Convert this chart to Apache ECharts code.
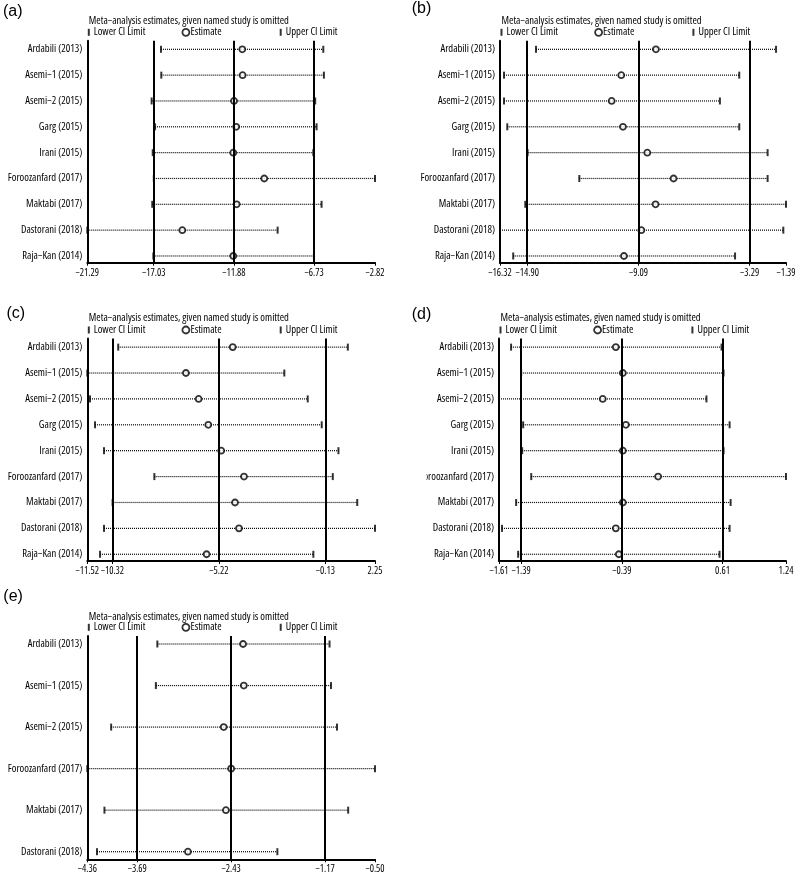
<!DOCTYPE html>
<html><head><meta charset="utf-8">
<script src="https://cdn.jsdelivr.net/npm/echarts@6/dist/echarts.min.js"></script>
<style>html,body{margin:0;padding:0;background:#fff}#c{width:800px;height:875px}</style>
</head><body><div id="c"></div>
<script>
// ---------- data ----------
const studies9 = ['Ardabili (2013)', 'Asemi\u22121 (2015)', 'Asemi\u22122 (2015)', 'Garg (2015)', 'Irani (2015)', 'Foroozanfard (2017)', 'Maktabi (2017)', 'Dastorani (2018)', 'Raja\u2212Kan (2014)'];
const studies6 = ['Ardabili (2013)', 'Asemi\u22121 (2015)', 'Asemi\u22122 (2015)', 'Foroozanfard (2017)', 'Maktabi (2017)', 'Dastorani (2018)'];

const aLower = [-16.56, -16.54, -17.16, -16.94, -17.09, -17.02, -17.12, -21.29, -17.05];
const aEst   = [-11.34, -11.32, -11.87, -11.73, -11.92, -9.93, -11.70, -15.19, -11.92];
const aUpper = [-6.14, -6.10, -6.66, -6.57, -6.78, -2.82, -6.25, -9.07, -6.74];
const aTicks = [-21.29, -17.03, -11.88, -6.73, -2.82];

const bLower = [-14.44, -16.11, -16.11, -15.94, -14.88, -12.18, -15.00, -16.32, -15.63];
const bEst   = [-8.18, -9.99, -10.49, -9.90, -8.63, -7.26, -8.20, -8.94, -9.85];
const bUpper = [-1.91, -3.83, -4.84, -3.83, -2.35, -2.35, -1.39, -1.53, -4.05];
const bTicks = [-16.32, -14.90, -9.09, -3.29, -1.39];

const cLower = [-10.04, -11.52, -11.39, -11.15, -10.72, -8.31, -10.31, -10.72, -10.91];
const cEst   = [-4.56, -6.80, -6.19, -5.73, -5.11, -4.02, -4.45, -4.26, -5.81];
const cUpper = [0.95, -2.09, -0.97, -0.30, 0.50, 0.23, 1.40, 2.25, -0.70];
const cTicks = [-11.52, -10.32, -5.22, -0.13, 2.25];

const dLower = [-1.49, -1.39, -1.61, -1.37, -1.38, -1.29, -1.44, -1.58, -1.42];
const dEst   = [-0.45, -0.38, -0.58, -0.35, -0.38, -0.03, -0.38, -0.45, -0.42];
const dUpper = [0.60, 0.62, 0.45, 0.68, 0.62, 1.24, 0.69, 0.68, 0.58];
const dTicks = [-1.61, -1.39, -0.39, 0.61, 1.24];

const eLower = [-3.42, -3.44, -4.04, -4.36, -4.13, -4.23];
const eEst   = [-2.27, -2.26, -2.53, -2.43, -2.50, -3.01];
const eUpper = [-1.11, -1.09, -1.01, -0.50, -0.86, -1.81];
const eTicks = [-4.36, -3.69, -2.43, -1.17, -0.50];

const panelTags = ['(a)', '(b)', '(c)', '(d)', '(e)'];
const headerText = 'Meta\u2212analysis estimates, given named study is omitted';
const legendNames = ['Lower CI Limit', 'Estimate', 'Upper CI Limit'];

// ---------- layout ----------
const FONT = '"Open Sans", "Liberation Sans", Arial, sans-serif';
const STRETCH = 'condensed';
const TAGFONT = '"Liberation Sans", Arial, sans-serif';
const panels = [
  {names: studies9, lower: aLower, est: aEst, upper: aUpper, ticks: aTicks},
  {names: studies9, lower: bLower, est: bEst, upper: bUpper, ticks: bTicks},
  {names: studies9, lower: cLower, est: cEst, upper: cUpper, ticks: cTicks},
  {names: studies9, lower: dLower, est: dEst, upper: dUpper, ticks: dTicks},
  {names: studies6, lower: eLower, est: eEst, upper: eUpper, ticks: eTicks}
];
const layout = [
  {left: 87.3, top: 40.7, width: 287.7, height: 222, ymin: 0.667, ymax: 9.26, tagX: 3, tagY: 11.2, headY: 20.7, legY: 32.3},
  {left: 500, top: 40.7, width: 286, height: 222, ymin: 0.667, ymax: 9.26, tagX: 411.7, tagY: 8.8, headY: 20.7, legY: 32.3},
  {left: 87.3, top: 338.5, width: 287.7, height: 222.5, ymin: 0.667, ymax: 9.26, tagX: 6.5, tagY: 314, headY: 318.3, legY: 330},
  {left: 499, top: 338.5, width: 287, height: 222.5, ymin: 0.667, ymax: 9.26, tagX: 411.7, tagY: 314.3, headY: 318.3, legY: 330},
  {left: 87.3, top: 636, width: 287.7, height: 223.3, ymin: 0.807, ymax: 6.183, tagX: 3.3, tagY: 596.7, headY: 616.7, legY: 627.3}
];

const fmt = v => (v < 0 ? '\u2212' : '') + Math.abs(v).toFixed(2);
const txt = (size) => ({fontSize: size, fontStyle: STRETCH, fontFamily: FONT, color: '#000', fontWeight: 'normal'});

const option = {
  animation: false,
  backgroundColor: '#fff',
  textStyle: {fontFamily: FONT, color: '#000'},
  title: [], legend: [], grid: [], xAxis: [], yAxis: [], series: [],
  graphic: [{type: 'rect', shape: {x: 396, y: 468, width: 30.5, height: 18}, style: {fill: '#fff'}, z: 100}]
};

panels.forEach((p, k) => {
  const L = layout[k];
  const rows = p.names.map((_, i) => i + 1);
  option.grid.push({left: L.left, top: L.top, width: L.width, height: L.height, containLabel: false, outerBoundsMode: 'none'});
  option.xAxis.push({
    type: 'value', gridIndex: k, min: p.ticks[0], max: p.ticks[p.ticks.length - 1],
    axisLine: {show: true, onZero: false, lineStyle: {color: '#000', width: 2}},
    axisTick: {show: true, length: 3, customValues: p.ticks, lineStyle: {color: '#000', width: 1}},
    axisLabel: Object.assign(txt(10), {customValues: p.ticks, formatter: fmt, margin: 5,
      showMinLabel: true, showMaxLabel: true, hideOverlap: false}),
    splitLine: {show: false}
  });
  option.yAxis.push({
    type: 'value', gridIndex: k, inverse: true, min: L.ymin, max: L.ymax,
    axisLine: {show: true, onZero: false, lineStyle: {color: '#000', width: 2}},
    axisTick: {show: false},
    axisLabel: Object.assign(txt(10.6), {customValues: rows, formatter: v => p.names[Math.round(v) - 1], margin: 5,
      showMinLabel: true, showMaxLabel: true, hideOverlap: false}),
    splitLine: {show: false}
  });
  // panel tag
  option.title.push({text: panelTags[k], left: L.tagX, top: L.tagY - 9, padding: 0,
    textStyle: {fontSize: 16, fontWeight: 'normal', fontFamily: TAGFONT, color: '#000', lineHeight: 18}});
  // header
  option.title.push({text: headerText, left: L.left + 1.5, top: L.headY - 6.5, padding: 0,
    textStyle: Object.assign(txt(10.6), {lineHeight: 13})});
  // legends
  const legCommon = {top: L.legY - 6.5, padding: 0, itemGap: 0, selectedMode: false};
  option.legend.push(Object.assign({}, legCommon, {left: L.left + 0.5, itemWidth: 2, itemHeight: 7,
    textStyle: Object.assign(txt(10.6), {lineHeight: 13, padding: [0, 0, 0, -1]}),
    data: [{name: legendNames[0], icon: 'rect', itemStyle: {color: '#000'}}]}));
  option.legend.push(Object.assign({}, legCommon, {left: L.left + 94.2, itemWidth: 7, itemHeight: 7,
    textStyle: Object.assign(txt(10.6), {lineHeight: 13, padding: [0, 0, 0, -4]}),
    data: [{name: legendNames[1], icon: 'circle', itemStyle: {color: '#fff', borderColor: '#000', borderWidth: 1.8}}]}));
  option.legend.push(Object.assign({}, legCommon, {left: L.left + 192.4, itemWidth: 2, itemHeight: 7,
    textStyle: Object.assign(txt(10.6), {lineHeight: 13, padding: [0, 0, 0, -1]}),
    data: [{name: legendNames[2], icon: 'rect', itemStyle: {color: '#000'}}]}));

  // dotted CI lines
  option.series.push({
    type: 'custom', xAxisIndex: k, yAxisIndex: k, z: 1, silent: true,
    encode: {x: [0, 1], y: 2},
    data: rows.map((r, i) => [p.lower[i], p.upper[i], r]),
    renderItem: (params, api) => {
      const a = api.coord([api.value(0), api.value(2)]);
      const b = api.coord([api.value(1), api.value(2)]);
      return {type: 'line', shape: {x1: a[0], y1: a[1], x2: b[0], y2: b[1]},
        style: {stroke: '#000', lineWidth: 1.2, lineDash: [1, 1]}};
    }
  });
  // lower / upper markers
  option.series.push({name: legendNames[0], type: 'scatter', xAxisIndex: k, yAxisIndex: k, z: 2, silent: true,
    symbol: 'rect', symbolSize: [2, 7], itemStyle: {color: '#000'},
    data: rows.map((r, i) => [p.lower[i], r])});
  option.series.push({name: legendNames[2], type: 'scatter', xAxisIndex: k, yAxisIndex: k, z: 2, silent: true,
    symbol: 'rect', symbolSize: [2, 7], itemStyle: {color: '#000'},
    data: rows.map((r, i) => [p.upper[i], r])});
  option.series.push({name: legendNames[1], type: 'scatter', xAxisIndex: k, yAxisIndex: k, z: 2, silent: true,
    symbol: 'circle', symbolSize: 6, itemStyle: {color: '#fff', borderColor: '#000', borderWidth: 1.8},
    data: rows.map((r, i) => [p.est[i], r])});
  // overall reference lines
  option.series.push({type: 'line', xAxisIndex: k, yAxisIndex: k, z: 3, silent: true, data: [],
    markLine: {silent: true, symbol: ['none', 'none'], label: {show: false}, animation: false,
      lineStyle: {color: '#000', width: 2, type: 'solid'},
      data: [{xAxis: p.ticks[1]}, {xAxis: p.ticks[2]}, {xAxis: p.ticks[3]}]}});
});

const chart = echarts.init(document.getElementById('c'), null, {renderer: 'canvas'});
chart.setOption(option);
</script>
</body></html>
